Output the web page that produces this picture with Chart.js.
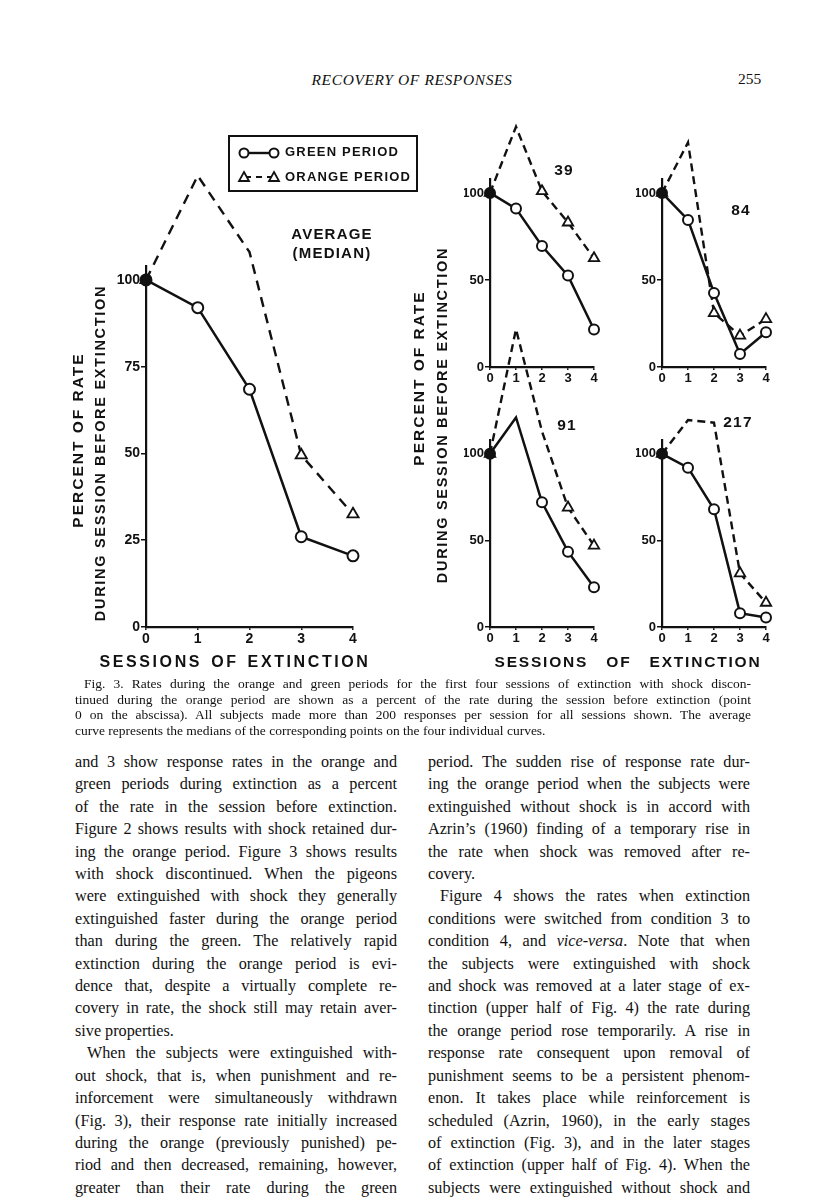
<!DOCTYPE html>
<html>
<head>
<meta charset="utf-8">
<script src="https://cdn.jsdelivr.net/npm/chart.js@4/dist/chart.umd.min.js"></script>
<style>
  html, body { margin: 0; padding: 0; background: #fff; }
  #page { position: relative; width: 816px; height: 1200px; overflow: hidden; color: #111; }
  canvas { position: absolute; }
  .abs { position: absolute; white-space: nowrap; }
  .sans { font-family: "Liberation Sans", Arial, sans-serif; font-weight: bold; letter-spacing: 1.2px; }
  .rot { transform: translate(-50%, -50%) rotate(-90deg); }
  .ctr { transform: translate(-50%, -50%); }
  .serif { font-family: "Liberation Serif", "DejaVu Serif", serif; }
  .col { position: absolute; width: 322px; font-size: 16.2px; line-height: 22.4px; }
  .col div, .cap div { white-space: nowrap; }
  .cap { position: absolute; left: 75px; top: 676px; width: 676px; font-size: 13.5px; line-height: 15.7px; }
  #legend { position: absolute; left: 228px; top: 135px; width: 186px; height: 53px; border: 2px solid #111; }
</style>
</head>
<body>
<div id="page">
  <div class="abs serif" style="left:412px;top:71px;font-size:15.5px;font-style:italic;letter-spacing:0.6px">
    <span style="display:inline-block;transform:translateX(-50%)">RECOVERY OF RESPONSES</span>
  </div>
  <div class="abs serif" style="left:738px;top:70px;font-size:15.5px">255</div>

  <canvas id="avg" width="360" height="560" style="left:60px;top:120px"></canvas>
  <canvas id="p39" width="170" height="290" style="left:440px;top:110px"></canvas>
  <canvas id="p84" width="170" height="290" style="left:612px;top:110px"></canvas>
  <canvas id="p91" width="170" height="360" style="left:440px;top:300px"></canvas>
  <canvas id="p217" width="170" height="360" style="left:612px;top:300px"></canvas>

  <div id="legend">
    <svg class="abs" style="left:6px;top:8px" width="46" height="40">
      <line x1="8" y1="8" x2="38" y2="8" stroke="#111" stroke-width="2.4"/>
      <circle cx="8" cy="8" r="4.5" fill="#fff" stroke="#111" stroke-width="2"/>
      <circle cx="38" cy="8" r="4.5" fill="#fff" stroke="#111" stroke-width="2"/>
      <line x1="9" y1="32" x2="38" y2="32" stroke="#111" stroke-width="2.2" stroke-dasharray="6,5"/>
      <polygon points="8,27 13,36 3,36" fill="#fff" stroke="#111" stroke-width="1.8"/>
      <polygon points="38,27 43,36 33,36" fill="#fff" stroke="#111" stroke-width="1.8"/>
    </svg>
    <div class="abs sans" style="left:55px;top:7px;font-size:13px">GREEN PERIOD</div>
    <div class="abs sans" style="left:55px;top:32px;font-size:13px">ORANGE PERIOD</div>
  </div>

  <div class="abs sans ctr" style="left:332px;top:233px;font-size:15px;text-align:center">AVERAGE</div>
  <div class="abs sans ctr" style="left:332px;top:252px;font-size:15px;text-align:center">(MEDIAN)</div>

  <div class="abs sans rot" style="left:78px;top:440px;font-size:15.5px;letter-spacing:2px">PERCENT OF RATE</div>
  <div class="abs sans rot" style="left:100px;top:453px;font-size:14.5px;letter-spacing:1.7px">DURING SESSION BEFORE EXTINCTION</div>
  <div class="abs sans ctr" style="left:235px;top:662px;font-size:16px;letter-spacing:2.6px;word-spacing:2px">SESSIONS OF EXTINCTION</div>

  <div class="abs sans rot" style="left:419px;top:378px;font-size:15.5px;letter-spacing:2px">PERCENT OF RATE</div>
  <div class="abs sans rot" style="left:442px;top:415px;font-size:14.5px;letter-spacing:1.7px">DURING SESSION BEFORE EXTINCTION</div>
  <div class="abs sans ctr" style="left:628px;top:662px;font-size:15.5px;letter-spacing:1.8px;word-spacing:12px">SESSIONS OF EXTINCTION</div>

  <div class="abs sans ctr" style="left:564px;top:170px;font-size:15.5px">39</div>
  <div class="abs sans ctr" style="left:741px;top:210px;font-size:15.5px">84</div>
  <div class="abs sans ctr" style="left:567px;top:425px;font-size:15.5px">91</div>
  <div class="abs sans ctr" style="left:738px;top:422px;font-size:15.5px">217</div>

  <div class="cap serif" id="caption"></div>
  <div class="col serif" id="colL" style="left:75px;top:751px"></div>
  <div class="col serif" id="colR" style="left:428px;top:751px"></div>
</div>

<script>
// sessions of extinction (0 = session before extinction)
const sessions = ["0", "1", "2", "3", "4"];

// percent of rate
const avgGreen = [100, 92, 68.5, 26, 20.5];
const avgOrange = [100, 130, 108, 49.5, 32.5];
const green39 = [100, 91, 69.5, 52.5, 21.5];
const orange39 = [100, 138, 101, 83, 62.5];
const green84 = [100, 84.5, 42.5, 7.5, 20];
const orange84 = [100, 129, 31, 18, 27.5];
const green91 = [100, 121, 72, 43.5, 23];
const orange91 = [100, 172, 113, 69, 47];
const green217 = [100, 92, 68, 8, 5.5];
const orange217 = [100, 119.5, 118, 31, 14];

const avgTicks = [0, 25, 50, 75, 100];
const panelTicks = [0, 50, 100];

const tickFont = { family: "Liberation Sans, Arial, sans-serif", weight: "bold", size: 13 };

function makeChart(id, green, orange, opt) {
  return new Chart(document.getElementById(id), {
    type: "line",
    data: {
      labels: sessions,
      datasets: [
        {
          label: "GREEN PERIOD",
          data: green,
          borderColor: "#111",
          borderWidth: 2.5,
          pointStyle: "circle",
          pointRadius: opt.r,
          pointBorderWidth: 2,
          pointBorderColor: "#111",
          pointBackgroundColor: (ctx) => (ctx.dataIndex === 0 ? "#111" : "#fff"),
          tension: 0,
          clip: false,
        },
        {
          label: "ORANGE PERIOD",
          data: orange,
          borderColor: "#111",
          borderWidth: 2.4,
          borderDash: opt.dash,
          pointStyle: "triangle",
          pointRadius: opt.r + 1,
          pointBorderWidth: 1.8,
          pointBorderColor: "#111",
          pointBackgroundColor: "#fff",
          tension: 0,
          clip: false,
        },
      ],
    },
    options: {
      responsive: false,
      animation: false,
      events: [],
      layout: { padding: opt.pad },
      plugins: { legend: { display: false }, tooltip: { enabled: false } },
      scales: {
        x: {
          offset: false,
          grid: { drawOnChartArea: false, drawTicks: true, tickLength: 3, color: "#111", lineWidth: 1.5 },
          border: { color: "#111", width: 2.2 },
          ticks: { color: "#111", font: { ...tickFont, size: opt.fs }, padding: 1, maxRotation: 0, autoSkip: false },
          afterFit: (s) => { s.height = opt.xh; },
        },
        y: {
          min: 0,
          max: opt.ymax,
          afterBuildTicks: (s) => { s.ticks = opt.ticks.map((v) => ({ value: v })); },
          grid: { drawOnChartArea: false, drawTicks: true, tickLength: 5, color: "#111", lineWidth: 1.5 },
          border: { color: "#111", width: 2.2 },
          ticks: { color: "#111", font: { ...tickFont, size: opt.fs }, padding: 1 },
          afterFit: (s) => { s.width = opt.yw; },
        },
      },
    },
  });
}

makeChart("avg", avgGreen, avgOrange, {
  r: 5.5, dash: [10, 7], ymax: 104, ticks: avgTicks, fs: 14, xh: 22, yw: 30,
  pad: { left: 56, right: 67, top: 146, bottom: 31 },
});

const smallTop = { r: 5, dash: [8, 5], ymax: 108, ticks: panelTicks, fs: 13, xh: 18, yw: 26,
  pad: { left: 24, right: 16, top: 69, bottom: 15 } };
const smallBottom = { ...smallTop, pad: { left: 24, right: 16, top: 140, bottom: 15 } };

makeChart("p39", green39, orange39, smallTop);
makeChart("p84", green84, orange84, smallTop);
makeChart("p91", green91, orange91, smallBottom);
makeChart("p217", green217, orange217, smallBottom);

// text of the page ("|" = last line of paragraph, ">" = indented first line)
const captionLines = [
  ">Fig. 3. Rates during the orange and green periods for the first four sessions of extinction with shock discon-",
  "tinued during the orange period are shown as a percent of the rate during the session before extinction (point",
  "0 on the abscissa). All subjects made more than 200 responses per session for all sessions shown. The average",
  "|curve represents the medians of the corresponding points on the four individual curves.",
];
const leftLines = [
  "and 3 show response rates in the orange and",
  "green periods during extinction as a percent",
  "of the rate in the session before extinction.",
  "Figure 2 shows results with shock retained dur-",
  "ing the orange period. Figure 3 shows results",
  "with shock discontinued. When the pigeons",
  "were extinguished with shock they generally",
  "extinguished faster during the orange period",
  "than during the green. The relatively rapid",
  "extinction during the orange period is evi-",
  "dence that, despite a virtually complete re-",
  "covery in rate, the shock still may retain aver-",
  "|sive properties.",
  ">When the subjects were extinguished with-",
  "out shock, that is, when punishment and re-",
  "inforcement were simultaneously withdrawn",
  "(Fig. 3), their response rate initially increased",
  "during the orange (previously punished) pe-",
  "riod and then decreased, remaining, however,",
  "greater than their rate during the green",
];
const rightLines = [
  "period. The sudden rise of response rate dur-",
  "ing the orange period when the subjects were",
  "extinguished without shock is in accord with",
  "Azrin\u2019s (1960) finding of a temporary rise in",
  "the rate when shock was removed after re-",
  "|covery.",
  ">Figure 4 shows the rates when extinction",
  "conditions were switched from condition 3 to",
  "condition 4, and <i>vice-versa</i>. Note that when",
  "the subjects were extinguished with shock",
  "and shock was removed at a later stage of ex-",
  "tinction (upper half of Fig. 4) the rate during",
  "the orange period rose temporarily. A rise in",
  "response rate consequent upon removal of",
  "punishment seems to be a persistent phenom-",
  "enon. It takes place while reinforcement is",
  "scheduled (Azrin, 1960), in the early stages",
  "of extinction (Fig. 3), and in the later stages",
  "of extinction (upper half of Fig. 4). When the",
  "subjects were extinguished without shock and",
];

// one div per printed line, justified by hand so the breaks stay as printed
function fillLines(el, lines, indent) {
  const full = el.clientWidth;
  lines.forEach((t) => {
    let last = false, ind = 0;
    if (t[0] === "|") { last = true; t = t.slice(1); }
    else if (t[0] === ">") { ind = indent; t = t.slice(1); }
    const d = document.createElement("div");
    const s = document.createElement("span");
    s.innerHTML = t;
    d.style.paddingLeft = ind + "px";
    d.appendChild(s);
    el.appendChild(d);
    const w = s.getBoundingClientRect().width;
    const gaps = (s.textContent.match(/ /g) || []).length;
    const room = full - ind - w;
    if (gaps && (!last || room < 0)) s.style.wordSpacing = room / gaps + "px";
  });
}

fillLines(document.getElementById("colL"), leftLines, 12);
fillLines(document.getElementById("colR"), rightLines, 12);
fillLines(document.getElementById("caption"), captionLines, 9);
</script>
</body>
</html>
